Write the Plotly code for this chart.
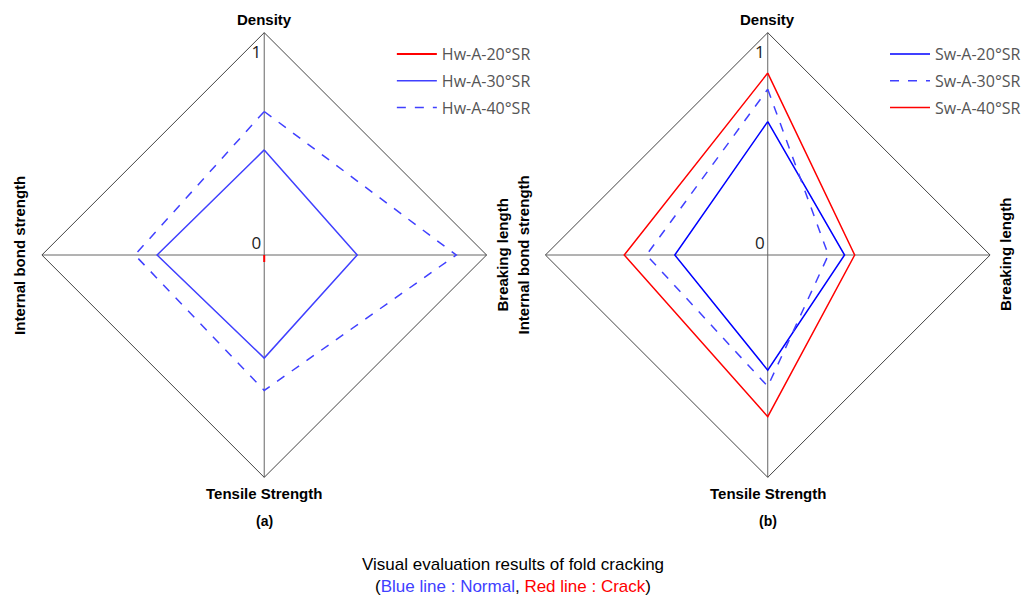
import plotly.graph_objects as go

categories = ["Density", "Breaking length", "Tensile Strength", "Internal bond strength"]

hw_names = ["Hw-A-20°SR", "Hw-A-30°SR", "Hw-A-40°SR"]
hw_20 = [0.0, 0.0, 0.035, 0.0]
hw_30 = [0.52, 0.46, 0.51, 0.53]
hw_40 = [0.71, 0.95, 0.67, 0.64]

sw_names = ["Sw-A-20°SR", "Sw-A-30°SR", "Sw-A-40°SR"]
sw_20 = [0.66, 0.38, 0.57, 0.46]
sw_30 = [0.82, 0.30, 0.65, 0.60]
sw_40 = [0.90, 0.43, 0.80, 0.71]

radial_ticks = [0, 1]

def closed(v):
    return list(v) + [v[0]]

cats_c = closed(categories)

fig = go.Figure()

left_styles = [("#ff0000", "solid", 2), ("#4040ff", "solid", 1.5), ("#4040ff", "dash", 1.5)]
for name, vals, (col, dash, w) in zip(hw_names, [hw_20, hw_30, hw_40], left_styles):
    fig.add_trace(go.Scatterpolar(r=closed(vals), theta=cats_c, mode="lines", name=name,
                                  line=dict(color=col, dash=dash, width=w),
                                  subplot="polar", legend="legend", legendgroup=name))

right_styles = [("#0000ff", "solid"), ("#4040ff", "dash"), ("#ff0000", "solid")]
for name, vals, (col, dash) in zip(sw_names, [sw_20, sw_30, sw_40], right_styles):
    fig.add_trace(go.Scatterpolar(r=closed(vals), theta=cats_c, mode="lines", name=name,
                                  line=dict(color=col, dash=dash, width=1.5),
                                  subplot="polar2", legend="legend2", legendgroup=name))

W, H = 1026, 595

# label text for radial ticks: the zero label sits above the horizontal spoke
tick_text = [("%g<br> " % t) if t == 0 else ("%g" % t) for t in radial_ticks]

def polar_cfg(cx, cy, rad):
    return dict(
        domain=dict(x=[(cx - rad) / W, (cx + rad) / W], y=[(H - cy - rad) / H, (H - cy + rad) / H]),
        gridshape="linear",
        bgcolor="white",
        radialaxis=dict(range=[0, 1.1], tickvals=radial_ticks, ticktext=tick_text,
                        angle=90, tickangle=90, showgrid=False, showline=False, ticks="",
                        side="counterclockwise",
                        tickfont=dict(family="Open Sans, sans-serif", size=17, color="#222")),
        angularaxis=dict(rotation=90, direction="clockwise", showticklabels=False, ticks="",
                         showline=True, linecolor="#444", linewidth=1,
                         showgrid=True, gridcolor="#666", gridwidth=1),
    )

leg_font = dict(family="Open Sans, sans-serif", size=16, color="#555")

fig.update_layout(
    width=W, height=H,
    margin=dict(l=0, r=0, t=0, b=0),
    paper_bgcolor="white",
    polar=polar_cfg(265, 255, 223),
    polar2=polar_cfg(770, 255, 223),
    legend=dict(x=393 / W, y=1 - 37 / H, xanchor="left", yanchor="top", bgcolor="rgba(0,0,0,0)",
                font=leg_font, tracegroupgap=3, itemwidth=40),
    legend2=dict(x=888 / W, y=1 - 37 / H, xanchor="left", yanchor="top", bgcolor="rgba(0,0,0,0)",
                 font=leg_font, tracegroupgap=3, itemwidth=40),
    showlegend=True,
)

lab_font = dict(family="Liberation Sans, Arial, sans-serif", size=15, color="black")

def add_labels(cx, xl, xr, tag):
    fig.add_annotation(x=cx / W, y=1 - 20 / H, xref="paper", yref="paper", text="<b>Density</b>",
                       showarrow=False, font=lab_font, xanchor="center", yanchor="middle")
    fig.add_annotation(x=cx / W, y=1 - 493 / H, xref="paper", yref="paper", text="<b>Tensile Strength</b>",
                       showarrow=False, font=lab_font, xanchor="center", yanchor="middle")
    fig.add_annotation(x=xl / W, y=1 - 255 / H, xref="paper", yref="paper", text="<b>Internal bond strength</b>",
                       showarrow=False, font=lab_font, textangle=-90, xanchor="center", yanchor="middle")
    fig.add_annotation(x=xr / W, y=1 - 255 / H, xref="paper", yref="paper", text="<b>Breaking length</b>",
                       showarrow=False, font=lab_font, textangle=-90, xanchor="center", yanchor="middle")
    fig.add_annotation(x=cx / W, y=1 - 521 / H, xref="paper", yref="paper", text=f"<b>{tag}</b>",
                       showarrow=False, font=dict(family="Liberation Sans, Arial, sans-serif", size=14, color="black"),
                       xanchor="center", yanchor="middle")

add_labels(265, 19, 503, "(a)")
add_labels(770, 525, 1008, "(b)")

fig.add_annotation(x=515 / W, y=1 - 575 / H, xref="paper", yref="paper",
                   text="Visual evaluation results of fold cracking<br>(<span style='color:#4040ff'>Blue line : Normal</span>, <span style='color:#ff0000'>Red line : Crack</span>)",
                   showarrow=False, align="center",
                   font=dict(family="Liberation Sans, Arial, sans-serif", size=17, color="black"),
                   xanchor="center", yanchor="middle")

fig.write_html("out.html")
